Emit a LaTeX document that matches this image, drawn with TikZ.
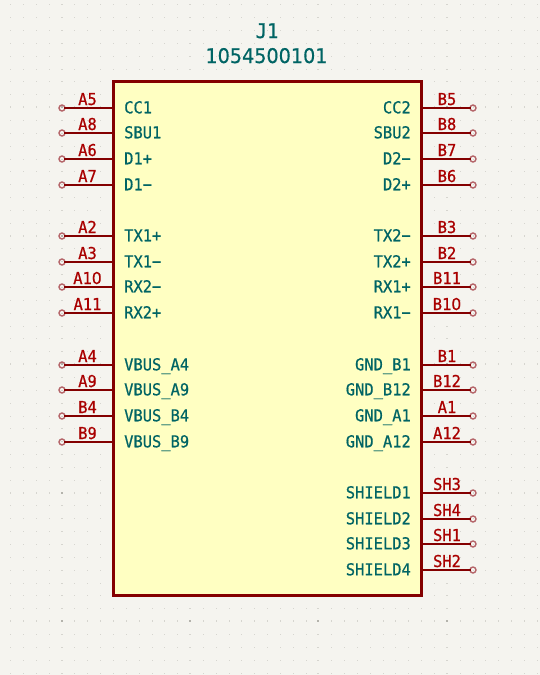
\documentclass[tikz,border=0pt]{standalone}
\usepackage{fontspec}
\setmainfont{DejaVu Sans Mono}[FakeBold=0.7,FakeStretch=0.94]
\newfontfamily\plaindigits{DejaVu Sans}[FakeBold=0.5,FakeStretch=0.95]
\definecolor{bgc}{HTML}{F5F4EF}
\definecolor{dotc}{HTML}{D6D5CF}
\definecolor{dotm}{HTML}{B4B3AC}
\definecolor{boxc}{HTML}{840000}
\definecolor{fillc}{HTML}{FFFFC2}
\definecolor{tealc}{HTML}{006464}
\definecolor{numc}{HTML}{A90000}
\definecolor{endc}{HTML}{B5666A}
\tikzset{
  x=1pt,y=-1pt,
  symbox/.style={draw=boxc,fill=fillc,line width=3pt,rectangle,inner sep=0pt,minimum width=307.5pt,minimum height=513.5pt,anchor=center},
  pinline/.style={draw=boxc,line width=2pt},
  endpt/.style={circle,draw=endc,line width=1.4pt,fill=none,minimum size=6pt,inner sep=0pt},
  pinname/.style={text=tealc,font=\fontsize{16.4}{18}\selectfont,inner sep=0pt},
  pinnum/.style={text=numc,font=\fontsize{16.4}{18}\selectfont,inner sep=0pt,anchor=base},
  reftext/.style={text=tealc,font=\fontsize{20.2}{22}\selectfont,inner sep=0pt,anchor=base},
}
\newcommand{\leftpin}[4]{% y, num, name, id
  \node[endpt] (c#4) at (62,#1) {};
  \coordinate (p#4) at (113,#1);
  \draw[pinline] ([xshift=-1.5pt]c#4.east) -- (p#4);
  \node[pinnum] (n#4) at (87.5,#1-3) {#2};
  \node[pinname,anchor=base west] (t#4) at (124,#1+5.3) {#3};
}
\newcommand{\rightpin}[4]{%
  \node[endpt] (c#4) at (473,#1) {};
  \coordinate (p#4) at (421,#1);
  \draw[pinline] (p#4) -- ([xshift=1.5pt]c#4.west);
  \node[pinnum] (n#4) at (447,#1-3) {#2};
  \node[pinname,anchor=base east] (t#4) at (411,#1+5.3) {#3};
}
\begin{document}
\begin{tikzpicture}
\useasboundingbox (0,0) rectangle (540,675);
\fill[bgc] (0,0) rectangle (540,675);
\foreach \i in {0,...,41}{
  \foreach \j in {0,...,52}{
    \pgfmathtruncatemacro{\mi}{mod(\i+6,10)}
    \pgfmathtruncatemacro{\mj}{mod(\j+2,10)}
    \pgfmathsetmacro{\dx}{round(10.3+12.84*\i)}
    \pgfmathsetmacro{\dy}{round(4.3+12.85*\j)}
    \pgfmathsetmacro{\wx}{\mi==0 ? 1.0 : 0.5}
    \pgfmathsetmacro{\wy}{\mj==0 ? 1.0 : 0.5}
    \pgfmathtruncatemacro{\both}{(\mi==0 && \mj==0) ? 1 : 0}
    \ifnum\both=1
      \fill[dotm] (\dx-\wx,\dy-\wy) rectangle (\dx+\wx,\dy+\wy);
    \else
      \fill[dotc] (\dx-\wx,\dy-\wy) rectangle (\dx+\wx,\dy+\wy);
    \fi
  }
}
\node[symbox] (sym) at (267.55,338.55) {};
\node[reftext] (ref) at (267,38) {J1};
\node[reftext] (val) at (266.5,63) {\plaindigits 1054500101};
\leftpin{108}{A5}{CC1}{a}
\leftpin{133}{A8}{SBU1}{b}
\leftpin{159}{A6}{D1+}{c}
\leftpin{185}{A7}{D1−}{d}
\leftpin{236}{A2}{TX1+}{e}
\leftpin{262}{A3}{TX1−}{f}
\leftpin{287}{A1{\plaindigits 0}}{RX2−}{g}
\leftpin{313}{A11}{RX2+}{h}
\leftpin{365}{A4}{VBUS\_A4}{i}
\leftpin{390}{A9}{VBUS\_A9}{j}
\leftpin{416}{B4}{VBUS\_B4}{k}
\leftpin{442}{B9}{VBUS\_B9}{l}
\rightpin{108}{B5}{CC2}{m}
\rightpin{133}{B8}{SBU2}{n}
\rightpin{159}{B7}{D2−}{o}
\rightpin{185}{B6}{D2+}{p}
\rightpin{236}{B3}{TX2−}{q}
\rightpin{262}{B2}{TX2+}{r}
\rightpin{287}{B11}{RX1+}{s}
\rightpin{313}{B1{\plaindigits 0}}{RX1−}{t}
\rightpin{365}{B1}{GND\_B1}{u}
\rightpin{390}{B12}{GND\_B12}{v}
\rightpin{416}{A1}{GND\_A1}{w}
\rightpin{442}{A12}{GND\_A12}{x}
\rightpin{493}{SH3}{SHIELD1}{y}
\rightpin{519}{SH4}{SHIELD2}{z}
\rightpin{544}{SH1}{SHIELD3}{aa}
\rightpin{570}{SH2}{SHIELD4}{ab}
\end{tikzpicture}
\end{document}
